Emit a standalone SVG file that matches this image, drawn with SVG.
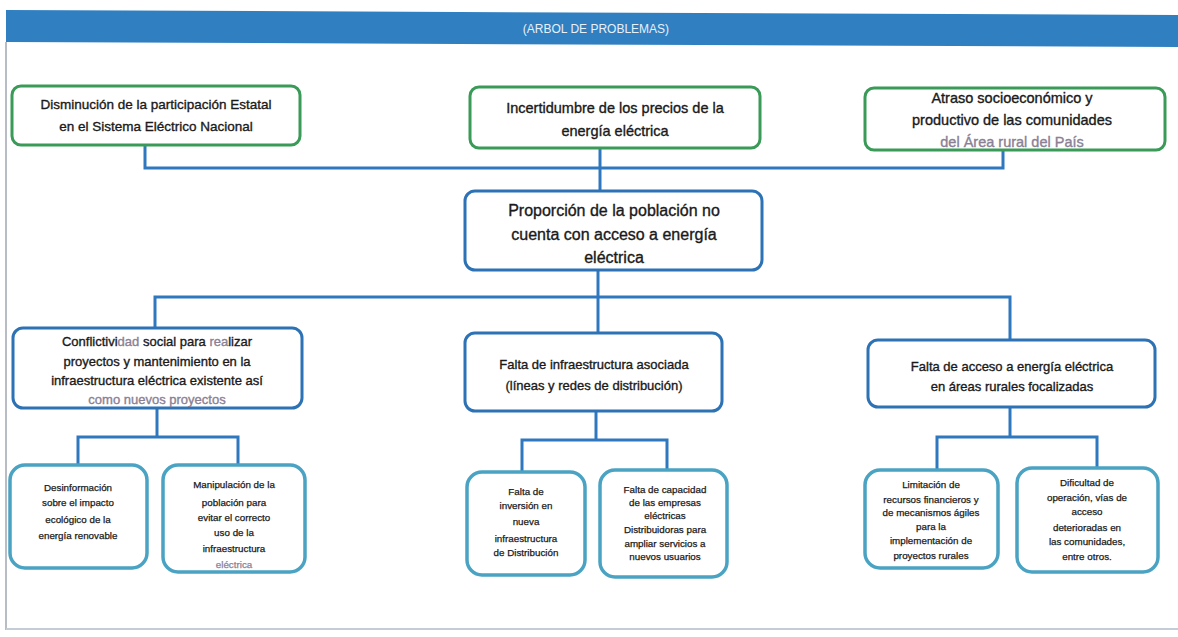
<svg xmlns="http://www.w3.org/2000/svg" width="1178" height="637" viewBox="0 0 1178 637">
<style>
text{font-family:"Liberation Sans",Arial,sans-serif;fill:#1a1a1a;text-anchor:middle;stroke:#1a1a1a;stroke-width:0.35}
.g{fill:#fff;stroke:#3a9b58;stroke-width:3}
.b{fill:#fff;stroke:#2d72b5;stroke-width:3}
.t{fill:#fff;stroke:#4aa3c2;stroke-width:3.5}
.c{fill:none;stroke:#2f78c0;stroke-width:3;stroke-linejoin:miter}
.s{font-size:9.8px;stroke-width:0.25}
.m{font-size:13px}
.hl{fill:#8a8094;stroke:#8a8094}
</style>
<rect width="1178" height="637" fill="#fff"/>
<polygon points="6,10 1178,15 1178,47 6,42" fill="#2f7fc1"/>
<text x="596" y="33" style="font-size:12px;fill:#e8f0fa;stroke:none">(ARBOL DE PROBLEMAS)</text>
<line x1="6" y1="42" x2="6" y2="630" stroke="#b8bcc4" stroke-width="2"/>
<line x1="6" y1="629" x2="1178" y2="629" stroke="#c4ccd6" stroke-width="2"/>

<g id="connectors">
<path class="c" d="M145,145 V168 H1003 V150"/>
<path class="c" d="M600,148 V192"/>
<path class="c" d="M598,270 V333"/>
<path class="c" d="M155,328 V297 H1010 V340"/>
<path class="c" d="M157,408 V437"/>
<path class="c" d="M78,465 V437 H238 V465"/>
<path class="c" d="M596,411 V440"/>
<path class="c" d="M522,472 V440 H667 V470"/>
<path class="c" d="M1010,407 V437"/>
<path class="c" d="M937,470 V437 H1097 V468"/>
</g>

<g id="efecto1">
<rect class="g" x="12" y="86" width="288" height="59" rx="9"/>
<text x="156" y="109" style="font-size:13.5px">Disminución de la participación Estatal</text>
<text x="156" y="131" style="font-size:13.5px">en el Sistema Eléctrico Nacional</text>
</g>
<g id="efecto2">
<rect class="g" x="470" y="87" width="290" height="61" rx="9"/>
<text x="615" y="113" style="font-size:14.5px">Incertidumbre de los precios de la</text>
<text x="615" y="136" style="font-size:14.5px">energía eléctrica</text>
</g>
<g id="efecto3">
<rect class="g" x="865" y="88" width="300" height="62" rx="9"/>
<text x="1012" y="103" style="font-size:14.5px">Atraso socioeconómico y</text>
<text x="1012" y="125" style="font-size:14.5px">productivo de las comunidades</text>
<text x="1012" y="147" style="font-size:14.5px" class="hl">del Área rural del País</text>
</g>

<g id="problema">
<rect class="b" x="465" y="191" width="297" height="79" rx="10"/>
<text x="614" y="216" style="font-size:16px">Proporción de la población no</text>
<text x="614" y="240" style="font-size:16px">cuenta con acceso a energía</text>
<text x="614" y="263" style="font-size:16px">eléctrica</text>
</g>

<g id="causa1">
<rect class="b" x="13" y="328" width="289" height="80" rx="10"/>
<text x="157" y="346" class="m">Conflictivi<tspan class="hl">dad</tspan> social para <tspan class="hl">rea</tspan>lizar</text>
<text x="157" y="366" class="m">proyectos y mantenimiento en la</text>
<text x="157" y="385" class="m">infraestructura eléctrica existente así</text>
<text x="157" y="404" class="m hl">como nuevos proyectos</text>
</g>
<g id="causa2">
<rect class="b" x="465" y="333" width="257" height="78" rx="10"/>
<text x="594" y="369" class="m">Falta de infraestructura asociada</text>
<text x="594" y="390" class="m">(líneas y redes de distribución)</text>
</g>
<g id="causa3">
<rect class="b" x="868" y="340" width="287" height="67" rx="10"/>
<text x="1012" y="371" class="m">Falta de acceso a energía eléctrica</text>
<text x="1012" y="391" class="m">en áreas rurales focalizadas</text>
</g>

<g id="sub1">
<rect class="t" x="10" y="465" width="137" height="103" rx="15"/>
<text x="78" y="491" class="s">Desinformación</text>
<text x="78" y="506" class="s">sobre el impacto</text>
<text x="78" y="523" class="s">ecológico de la</text>
<text x="78" y="539" class="s">energía renovable</text>
</g>
<g id="sub2">
<rect class="t" x="163" y="465" width="142" height="107" rx="15"/>
<text x="234" y="488" class="s">Manipulación de la</text>
<text x="234" y="506" class="s">población para</text>
<text x="234" y="521" class="s">evitar el correcto</text>
<text x="234" y="536" class="s">uso de la</text>
<text x="234" y="552" class="s">infraestructura</text>
<text x="234" y="568" class="s hl">eléctrica</text>
</g>
<g id="sub3">
<rect class="t" x="467" y="472" width="118" height="103" rx="15"/>
<text x="526" y="495" class="s">Falta de</text>
<text x="526" y="509" class="s">inversión en</text>
<text x="526" y="525" class="s">nueva</text>
<text x="526" y="542" class="s">infraestructura</text>
<text x="526" y="556" class="s">de Distribución</text>
</g>
<g id="sub4">
<rect class="t" x="600" y="470" width="127" height="107" rx="15"/>
<text x="665" y="493" class="s">Falta de capacidad</text>
<text x="665" y="506" class="s">de las empresas</text>
<text x="665" y="519" class="s">eléctricas</text>
<text x="665" y="533" class="s">Distribuidoras para</text>
<text x="665" y="547" class="s">ampliar servicios a</text>
<text x="665" y="560" class="s">nuevos usuarios</text>
</g>
<g id="sub5">
<rect class="t" x="865" y="470" width="133" height="98" rx="15"/>
<text x="931" y="488" class="s">Limitación de</text>
<text x="931" y="503" class="s">recursos financieros y</text>
<text x="931" y="516" class="s">de mecanismos ágiles</text>
<text x="931" y="530" class="s">para la</text>
<text x="931" y="544" class="s">implementación de</text>
<text x="931" y="559" class="s">proyectos rurales</text>
</g>
<g id="sub6">
<rect class="t" x="1017" y="468" width="141" height="104" rx="15"/>
<text x="1087" y="486" class="s">Dificultad de</text>
<text x="1087" y="501" class="s">operación, vías de</text>
<text x="1087" y="515" class="s">acceso</text>
<text x="1087" y="531" class="s">deterioradas en</text>
<text x="1087" y="545" class="s">las comunidades,</text>
<text x="1087" y="560" class="s">entre otros.</text>
</g>
</svg>
